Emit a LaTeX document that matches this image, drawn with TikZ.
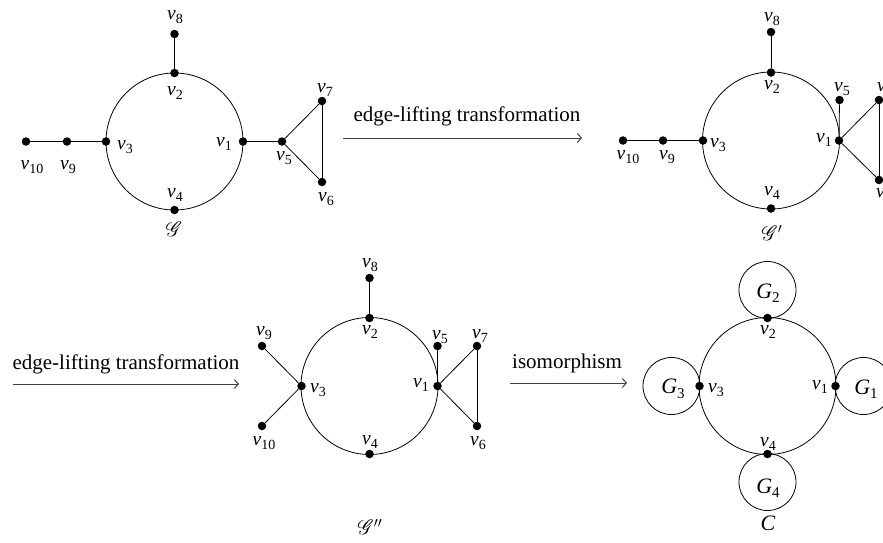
\documentclass[tikz,border=0pt]{standalone}
\usepackage{fontspec}
\setmainfont{Liberation Serif}
\usepackage{mathrsfs}
\usetikzlibrary{arrows.meta}
\newcommand\vl[1]{\textit{v}\kern0.3pt\raisebox{-4.5pt}{\fontsize{14}{14}\selectfont #1}}
\newcommand\gl[1]{\textit{G}\raisebox{-4.5pt}{\fontsize{15}{15}\selectfont #1}}
\tikzset{
  dot/.style={circle,fill=black,inner sep=0pt,minimum size=8.5pt},
  ring/.style={circle,draw,line width=0.8pt,inner sep=0pt,minimum size=137pt},
  smallring/.style={circle,draw,line width=0.8pt,inner sep=0pt,minimum size=57pt},
  lab/.style={inner sep=0pt,font=\fontsize{19.5}{19.5}\selectfont},
  glab/.style={inner sep=0pt,font=\fontsize{22}{22}\selectfont},
  txt/.style={inner sep=0pt,font=\fontsize{21}{21}\selectfont},
  gname/.style={inner sep=0pt,font=\fontsize{21}{21}\selectfont},
  lnk/.style={line width=0.8pt},
  trans/.style={draw=black!75,line width=1pt,-{Straight Barb[length=4pt,width=9pt]}},
}
\begin{document}
\begin{tikzpicture}[x=1pt,y=-1pt]
\useasboundingbox (0,0) rectangle (883,542);
% ---------- top-left graph
\node[ring] (aC) at (174.5,141.5) {};
\node[dot] (a2) at (174.5,73) {};
\node[dot] (a3) at (106,141.5) {};
\node[dot] (a1) at (243,141.5) {};
\node[dot] (a4) at (174.5,210) {};
\node[dot] (a8) at (174.5,34) {};
\node[dot] (a9) at (67,141.5) {};
\node[dot] (a10) at (26,141.5) {};
\node[dot] (a5) at (282,141.5) {};
\node[dot] (a7) at (322,101) {};
\node[dot] (a6) at (322,182) {};
\draw[lnk] (a8) -- (a2);
\draw[lnk] (a10) -- (a9);
\draw[lnk] (a9) -- (a3);
\draw[lnk] (a1) -- (a5);
\draw[lnk] (a5) -- (a7);
\draw[lnk] (a5) -- (a6);
\draw[lnk] (a7) -- (a6);
\node[lab] (la8) at (175,17) {\vl{8}};
\node[lab] (la2) at (175,93) {\vl{2}};
\node[lab] (la7) at (325,90) {\vl{7}};
\node[lab] (la3) at (125,147) {\vl{3}};
\node[lab] (la1) at (224,144) {\vl{1}};
\node[lab] (la5) at (284,158) {\vl{5}};
\node[lab] (la6) at (326,199) {\vl{6}};
\node[lab] (la4) at (175,195) {\vl{4}};
\node[lab] (la10) at (32,167) {\vl{10}};
\node[lab] (la9) at (68,167) {\vl{9}};
\node[gname] (ga) at (174,229) {$\mathscr{G}$};
% ---------- arrow 1
\coordinate (t1s) at (343,138);
\coordinate (t1e) at (582,138);
\draw[trans] (t1s) -- (t1e);
\node[txt] (t1l) at (467,116) {edge-lifting transformation};
% ---------- top-right graph
\node[ring] (bC) at (771,140.5) {};
\node[dot] (b2) at (771,72.5) {};
\node[dot] (b3) at (703,140.5) {};
\node[dot] (b1) at (839,140.5) {};
\node[dot] (b4) at (771,208.5) {};
\node[dot] (b8) at (771,32) {};
\node[dot] (b9) at (663,140.5) {};
\node[dot] (b10) at (623,140.5) {};
\node[dot] (b5) at (839.5,100) {};
\node[dot] (b7) at (879,100) {};
\node[dot] (b6) at (879,180) {};
\draw[lnk] (b8) -- (b2);
\draw[lnk] (b10) -- (b9);
\draw[lnk] (b9) -- (b3);
\draw[lnk] (b1) -- (b5);
\draw[lnk] (b1) -- (b7);
\draw[lnk] (b1) -- (b6);
\draw[lnk] (b7) -- (b6);
\node[lab] (lb8) at (772,19) {\vl{8}};
\node[lab] (lb2) at (772,87) {\vl{2}};
\node[lab] (lb5) at (842,89) {\vl{5}};
\node[lab] (lb7) at (885,89) {\vl{7}};
\node[lab] (lb1) at (824,140) {\vl{1}};
\node[lab] (lb3) at (718,145) {\vl{3}};
\node[lab] (lb10) at (628,157) {\vl{10}};
\node[lab] (lb9) at (667,157) {\vl{9}};
\node[lab] (lb4) at (772,193) {\vl{4}};
\node[lab] (lb6) at (884,195) {\vl{6}};
\node[gname] (gb) at (772,233) {$\mathscr{G}'$};
% ---------- arrow 2
\coordinate (t2s) at (13,384);
\coordinate (t2e) at (239,384);
\draw[trans] (t2s) -- (t2e);
\node[txt] (t2l) at (126,364) {edge-lifting transformation};
% ---------- bottom-middle graph
\node[ring] (cC) at (369.5,386) {};
\node[dot] (c2) at (369.5,318) {};
\node[dot] (c3) at (301.5,386) {};
\node[dot] (c1) at (437.5,386) {};
\node[dot] (c4) at (369.5,454) {};
\node[dot] (c8) at (369.5,278) {};
\node[dot] (c9) at (262,346) {};
\node[dot] (c10) at (262,426) {};
\node[dot] (c5) at (437.5,346) {};
\node[dot] (c7) at (477,346) {};
\node[dot] (c6) at (477,426) {};
\draw[lnk] (c8) -- (c2);
\draw[lnk] (c9) -- (c3);
\draw[lnk] (c10) -- (c3);
\draw[lnk] (c1) -- (c5);
\draw[lnk] (c1) -- (c7);
\draw[lnk] (c1) -- (c6);
\draw[lnk] (c7) -- (c6);
\node[lab] (lc8) at (370,265) {\vl{8}};
\node[lab] (lc2) at (370,332) {\vl{2}};
\node[lab] (lc9) at (264,333) {\vl{9}};
\node[lab] (lc5) at (440,337) {\vl{5}};
\node[lab] (lc7) at (480,336) {\vl{7}};
\node[lab] (lc3) at (318,390) {\vl{3}};
\node[lab] (lc1) at (421,385) {\vl{1}};
\node[lab] (lc10) at (264,443) {\vl{10}};
\node[lab] (lc4) at (370,442) {\vl{4}};
\node[lab] (lc6) at (478,443) {\vl{6}};
\node[gname] (gc) at (370,527) {$\mathscr{G}''$};
% ---------- arrow 3
\coordinate (t3s) at (510,383);
\coordinate (t3e) at (627,383);
\draw[trans] (t3s) -- (t3e);
\node[txt] (t3l) at (567,363) {isomorphism};
% ---------- bottom-right graph
\node[ring] (dC) at (767.5,386) {};
\node[smallring] (dG2) at (767.5,290) {};
\node[smallring] (dG3) at (671.5,386) {};
\node[smallring] (dG1) at (863.5,386) {};
\node[smallring] (dG4) at (767.5,482) {};
\node[dot] (d2) at (767.5,318) {};
\node[dot] (d3) at (699.5,386) {};
\node[dot] (d1) at (835.5,386) {};
\node[dot] (d4) at (767.5,454) {};
\node[glab] (lG2) at (768,293) {\gl{2}};
\node[glab] (lG3) at (673,389) {\gl{3}};
\node[glab] (lG1) at (866,389) {\gl{1}};
\node[glab] (lG4) at (768,488) {\gl{4}};
\node[lab] (ld2) at (768,332) {\vl{2}};
\node[lab] (ld3) at (716,390) {\vl{3}};
\node[lab] (ld1) at (820,387) {\vl{1}};
\node[lab] (ld4) at (768,444) {\vl{4}};
\node[glab] (gd) at (768,523) {\textit{C}};
\end{tikzpicture}
\end{document}
